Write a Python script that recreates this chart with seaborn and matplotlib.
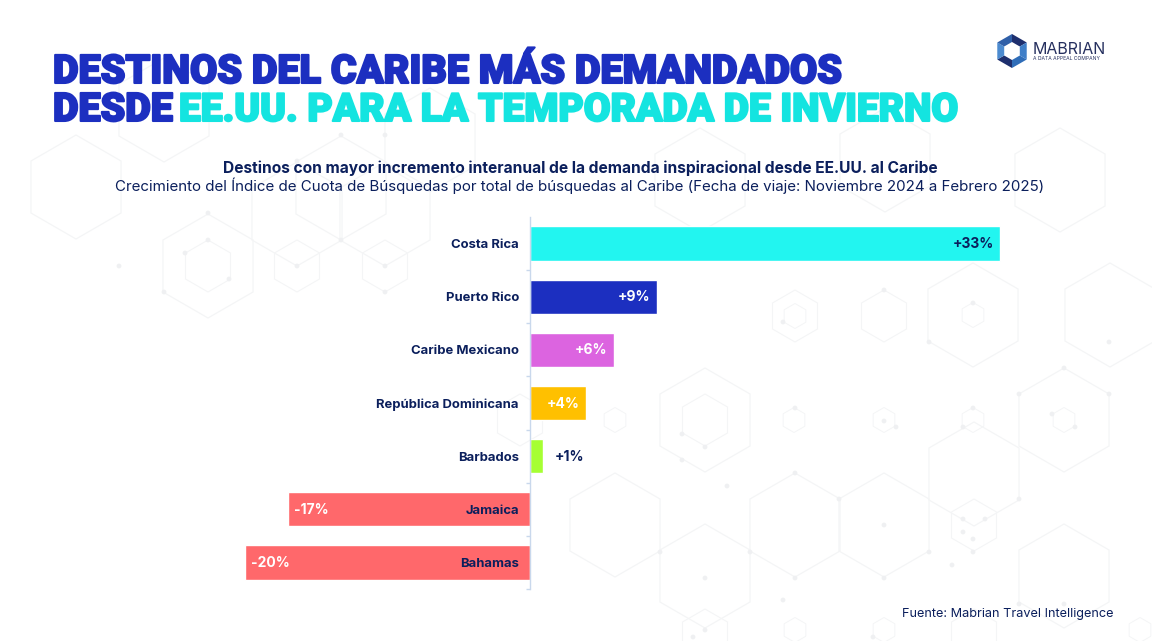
import numpy as np
import pandas as pd
import matplotlib
matplotlib.use("Agg")
import matplotlib.pyplot as plt
from matplotlib.patches import Polygon, Circle
import matplotlib.patheffects as pe
import seaborn as sns

destinos = ["Costa Rica", "Puerto Rico", "Caribe Mexicano", "República Dominicana", "Barbados", "Jamaica", "Bahamas"]
valores = [33, 8.9, 5.9, 3.9, 0.9, -17, -20]
etiquetas = ["+33%", "+9%", "+6%", "+4%", "+1%", "-17%", "-20%"]
colores = ["#22F5F0", "#1C2FC0", "#DC64E0", "#FFC000", "#A6FF33", "#FF686B", "#FF686B"]
color_etiqueta = ["#0B1F5C", "white", "white", "white", "#0B1F5C", "#FFFFFF", "#FFFFFF"]

titulo_1 = "DESTINOS DEL CARIBE MÁS DEMANDADOS"
titulo_2a = "DESDE"
titulo_2b = "EE.UU. PARA LA TEMPORADA DE INVIERNO"
sub_1 = "Destinos con mayor incremento interanual de la demanda inspiracional desde EE.UU. al Caribe"
sub_2 = "Crecimiento del Índice de Cuota de Búsquedas por total de búsquedas al Caribe (Fecha de viaje: Noviembre 2024 a Febrero 2025)"
fuente = "Fuente: Mabrian Travel Intelligence"

W, H = 1152, 641
NAVY = "#0B1F5C"
sns.set_theme(style="white")
plt.rcParams["font.family"] = ["Inter", "DejaVu Sans"]

fig = plt.figure(figsize=(W / 100, H / 100), dpi=100, facecolor="white")

bg = fig.add_axes([0, 0, 1, 1], zorder=0)
bg.set_xlim(0, W)
bg.set_ylim(H, 0)
bg.axis("off")

def hex_pts(cx, cy, r):
    ang = np.deg2rad(np.arange(30, 390, 60))
    return np.c_[cx + r * np.cos(ang), cy + r * np.sin(ang)]

# faint honeycomb watermark
hex_grande = [(76, 187), (208, 266), (297, 214), (385, 214), (341, 188), (164, 110), (430, 140),
              (973, 315), (705, 420), (1064, 420), (974, 474), (795, 525), (884, 525), (1110, 315),
              (705, 576), (1064, 576), (615, 525), (885, 160), (1060, 180), (700, 180)]
hex_medio = [(795, 316), (884, 316), (705, 420), (974, 525), (208, 266), (297, 266), (385, 266),
             (705, 635), (974, 635), (520, 420)]
hex_chico = [(795, 316), (973, 315), (794, 420), (884, 420), (973, 420), (1064, 420), (1140, 630),
             (884, 630), (795, 630), (615, 420)]
puntos = [(208, 213), (208, 240), (185, 253), (229, 279), (164, 292), (297, 266), (385, 292), (385, 266),
          (341, 240), (119, 266), (341, 135), (297, 161), (385, 135), (783, 322), (884, 290), (973, 303),
          (929, 342), (1109, 342), (1064, 368), (1019, 394), (1109, 394), (682, 434), (705, 447),
          (682, 460), (727, 486), (795, 473), (795, 408), (884, 421), (896, 427), (973, 408), (963, 427),
          (1052, 414), (1075, 427), (839, 499), (884, 525), (929, 552), (1019, 499), (963, 519), (985, 519),
          (963, 532), (973, 539), (973, 552), (952, 565), (750, 552), (660, 552), (705, 578), (795, 578),
          (884, 578), (1019, 604), (1064, 604), (705, 630), (693, 637), (783, 600), (873, 637)]
LINEA = "#F4F5F6"
for lista, r, lw in ((hex_grande, 52, 0.9), (hex_medio, 26, 0.8), (hex_chico, 12.5, 0.7)):
    for cx, cy in lista:
        bg.add_patch(Polygon(hex_pts(cx, cy, r), closed=True, fill=False, ec=LINEA, lw=lw))
for cx, cy in puntos:
    bg.add_patch(Circle((cx, cy), 2.4, fc="#EFF0F2", ec="none"))

# chart
ax = fig.add_axes([230 / W, 1 - 589 / H, 780 / W, 372 / H], zorder=1)
ax.patch.set_alpha(0)
df = pd.DataFrame({"destino": destinos, "valor": valores})
sns.barplot(data=df, y="destino", x="valor", hue="destino", order=destinos, hue_order=destinos,
            palette=colores, legend=False, width=0.645, saturation=1, orient="h", ax=ax)
ax.set_axisbelow(False)
ax.set_xlim(-300 / 14.24, 480 / 14.24)
ax.set_ylim(6.5, -0.5)
ax.set_xlabel("")
ax.set_ylabel("")
ax.xaxis.set_visible(False)
for s in ("top", "right", "bottom"):
    ax.spines[s].set_visible(False)
ax.spines["left"].set_position(("data", 0))
ax.spines["left"].set_color("#C9D8EC")
ax.spines["left"].set_linewidth(1)
ax.set_yticks(np.arange(len(destinos)))
ax.set_yticklabels(destinos, fontsize=9.4, fontweight="bold", color=NAVY)
ax.set_yticks(np.arange(len(destinos)) + 0.5, minor=True)
ax.tick_params(axis="y", which="major", length=0, pad=8)
ax.tick_params(axis="y", which="minor", length=3, color="#C9D8EC", left=True)

for i, (v, t, c) in enumerate(zip(valores, etiquetas, color_etiqueta)):
    if v < 0:
        x, ha = v + 0.42, "left"
    elif v < 2:
        x, ha = v + 0.85, "left"
    else:
        x, ha = v - 0.45, "right"
    ax.text(x, i + 0.01, t, ha=ha, va="center", fontsize=10, fontweight="bold", color=c)

# titles
def heavy(col):
    return [pe.withStroke(linewidth=1.5, foreground=col)]
kw = dict(fontweight="black", family=["Roboto", "DejaVu Sans"], va="baseline", ha="left")
bg.text(53, 83, titulo_1, color="#1C2FC0", fontsize=28.45, path_effects=heavy("#1C2FC0"), **kw)
bg.text(53, 121, titulo_2a, color="#1C2FC0", fontsize=28.4, path_effects=heavy("#1C2FC0"), **kw)
bg.text(179, 121, titulo_2b, color="#14E4E0", fontsize=28.0, path_effects=heavy("#14E4E0"), **kw)

bg.text(580, 168, sub_1, ha="center", va="center", fontsize=11.2, fontweight="bold", color=NAVY)
bg.text(580, 186, sub_2, ha="center", va="center", fontsize=10.87, color=NAVY)
bg.text(1113, 614, fuente, ha="right", va="center", fontsize=9.17, color=NAVY)

# logo
v = hex_pts(1012, 51, 17)
for k, col in enumerate(["#2F6DB8", "#1E2F6E", "#4C8BD0", "#2F5FA8", "#1E2F6E", "#3F7FC8"]):
    bg.add_patch(Polygon([v[k], v[(k + 1) % 6], (1012, 51)], closed=True, fc=col, ec="none"))
bg.add_patch(Polygon(hex_pts(1012, 51, 9), closed=True, fc="white", ec="none"))
bg.text(1033, 49, "MABRIAN", ha="left", va="center", fontsize=11.5, color="#26305F")
bg.text(1033, 58, "A DATA APPEAL COMPANY", ha="left", va="center", fontsize=3.6, color="#26305F")

fig.savefig("out.png", dpi=100)
